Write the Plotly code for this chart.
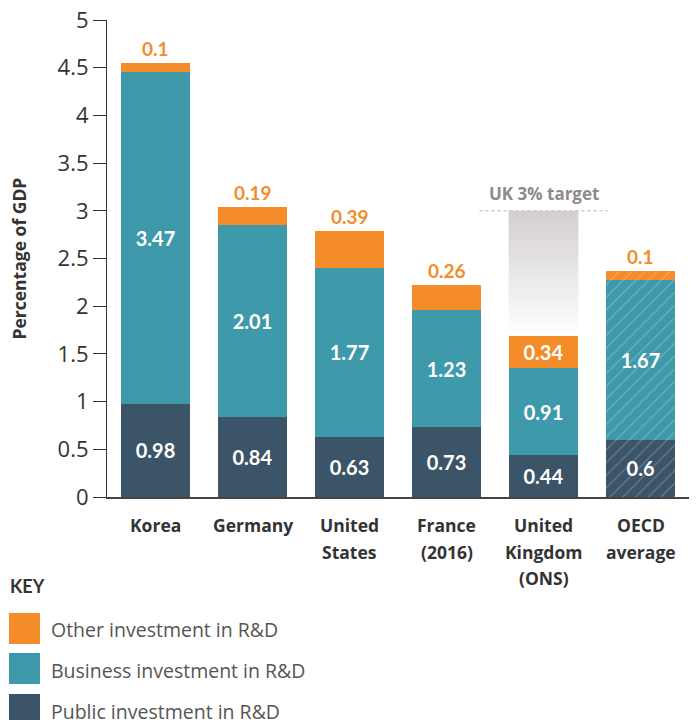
import plotly.graph_objects as go

categories = ["Korea", "Germany", "United<br>States", "France<br>(2016)", "United<br>Kingdom<br>(ONS)", "OECD<br>average"]
public = [0.98, 0.84, 0.63, 0.73, 0.44, 0.6]
business = [3.47, 2.01, 1.77, 1.23, 0.91, 1.67]
other = [0.1, 0.19, 0.39, 0.26, 0.34, 0.1]
uk_index = 4
uk_target = 3.0
y_ticks = [0, 0.5, 1, 1.5, 2, 2.5, 3, 3.5, 4, 4.5, 5]
legend_labels = ["Other investment in R&D", "Business investment in R&D", "Public investment in R&D"]

C_ORANGE = "#F48C2A"
C_TEAL = "#3E99AB"
C_DARK = "#3C5467"
LABEL_FONT = "Lato"
CAT_FONT = "Open Sans"
TICK_FONT = "Open Sans"

x = list(range(len(categories)))
W = 0.72
patterns = ["", "", "", "", "", "/"]

# page geometry (pixels)
H, Wd = 720, 700
ml, mr, mt, mb = 107, 11, 20, 223
pw, ph = Wd - ml - mr, H - mt - mb
def px(xp):
    return (xp - ml) / pw
def py(yp):
    return (H - mb - yp) / ph

fig = go.Figure()

# UK target gradient
uk_total = public[uk_index] + business[uk_index] + other[uk_index]
x0, x1 = uk_index - W / 2, uk_index + W / 2
fig.add_trace(go.Scatter(
    x=[x0, x1, x1, x0, x0], y=[uk_total, uk_total, uk_target, uk_target, uk_total],
    mode="lines", line=dict(width=0), fill="toself",
    fillgradient=dict(type="vertical", start=uk_total, stop=uk_target,
                      colorscale=[[0, "rgba(255,255,255,1)"], [1, "#d3cfce"]]),
    hoverinfo="skip", showlegend=False))
fig.add_trace(go.Scatter(
    x=[uk_index - 0.66, uk_index + 0.66], y=[uk_target, uk_target],
    mode="lines", line=dict(color="#cfcbca", width=1.5, dash="dot"),
    hoverinfo="skip", showlegend=False))

def bar(vals, color, name, texts):
    return go.Bar(
        x=x, y=vals, name=name, width=W,
        marker=dict(color=color, line=dict(width=0),
                    pattern=dict(shape=patterns, fgcolor="#ffffff", fgopacity=0.28,
                                 size=9, solidity=0.12)),
        text=texts,
        textposition="inside", insidetextanchor="middle",
        textfont=dict(family=LABEL_FONT, size=20, color="white", weight="bold"),
        textangle=0, showlegend=False, hoverinfo="skip")

fig.add_trace(bar(public, C_DARK, legend_labels[2], [f"{v:g}" for v in public]))
fig.add_trace(bar(business, C_TEAL, legend_labels[1], [f"{v:g}" for v in business]))
fig.add_trace(bar(other, C_ORANGE, legend_labels[0],
                  [f"{v:g}" if i == uk_index else "" for i, v in enumerate(other)]))

ann = []
for i in x:
    if i == uk_index:
        continue
    tot = public[i] + business[i] + other[i]
    ann.append(dict(x=i, y=tot, xref="x", yref="y", text=f"{other[i]:g}",
                    showarrow=False, yanchor="bottom", yshift=1,
                    font=dict(family=LABEL_FONT, size=19, color=C_ORANGE, weight="bold")))
ann.append(dict(x=uk_index, y=uk_target, xref="x", yref="y", text="UK 3% target",
                showarrow=False, yanchor="bottom", yshift=4,
                font=dict(family="Open Sans", size=17, color="#8f8a88", weight="bold")))
ann.append(dict(x=px(18), y=0.5, xref="paper", yref="paper", text="Percentage of GDP",
                textangle=-90, showarrow=False, xanchor="center",
                font=dict(family="Open Sans", size=17.5, color="#333333", weight="bold")))

# category labels with wider line spacing
for i, cat in enumerate(categories):
    for k, line in enumerate(cat.split("<br>")):
        ann.append(dict(x=i, y=0, xref="x", yref="y", text=line, showarrow=False,
                        yanchor="middle", yshift=-(28 + 26.5 * k),
                        font=dict(family=CAT_FONT, size=17.5, color="#333333", weight="bold")))

shapes = []
ann.append(dict(x=px(8), y=py(586), xref="paper", yref="paper", text="KEY", showarrow=False,
                xanchor="left", yanchor="middle",
                font=dict(family=LABEL_FONT, size=18, color="#333333", weight="bold")))
key_colors = [C_ORANGE, C_TEAL, C_DARK]
key_tops = [613, 653, 694]
for lab, col, top in zip(legend_labels, key_colors, key_tops):
    shapes.append(dict(type="rect", xref="paper", yref="paper",
                       x0=px(9), x1=px(40), y0=py(top), y1=py(top + 31),
                       fillcolor=col, line=dict(width=0)))
    ann.append(dict(x=px(49), y=py(top + 17), xref="paper", yref="paper", text=lab,
                    showarrow=False, xanchor="left", yanchor="middle",
                    font=dict(family="Open Sans", size=19.5, color="#555555")))

fig.update_layout(
    width=700, height=720, barmode="stack",
    margin=dict(l=ml, r=mr, t=mt, b=mb, autoexpand=False),
    plot_bgcolor="white", paper_bgcolor="white",
    annotations=ann, shapes=shapes, showlegend=False,
    xaxis=dict(tickvals=x, ticktext=["" for _ in categories], range=[-0.5, 5.5], automargin=False,
               showline=True, linecolor="#444444", linewidth=1.5, ticks="",
               showgrid=False, zeroline=False, fixedrange=True),
    yaxis=dict(range=[0, 5], tickvals=y_ticks, ticktext=[f"{v:g}" for v in y_ticks],
               automargin=False,
               showline=True, linecolor="#333333", linewidth=1.2,
               ticks="outside", ticklen=13, tickcolor="#333333", tickwidth=1.2,
               tickfont=dict(family=TICK_FONT, size=22, color="#333333"),
               showgrid=False, zeroline=False, fixedrange=True),
    uniformtext=dict(minsize=10, mode="show"),
)

fig.write_html("out.html", config={"displayModeBar": False},
               post_script="document.body.style.margin='0';document.body.style.overflow='hidden';")
